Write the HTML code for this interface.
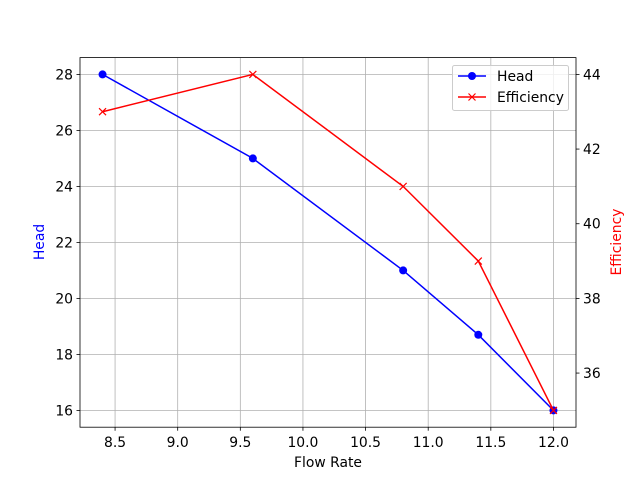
<!DOCTYPE html>
<html><head><meta charset="utf-8"><style>
body{margin:0;background:#fff;}
svg{display:block;font-family:"DejaVu Sans","Liberation Sans",sans-serif;}
</style></head><body>
<svg id="c" width="640" height="480"></svg>
<script>
const flowRates=[8.4,9.6,10.8,11.4,12.0];
const headValues=[28,25,21,18.7,16];
const efficiencyValues=[43,44,41,39,35];
const xTicks=[8.5,9.0,9.5,10.0,10.5,11.0,11.5,12.0];
const headTicks=[16,18,20,22,24,26,28];
const effTicks=[36,38,40,42,44];

const L=80,R=576,T=57.6,B=427.2,FS=13.9;
function ext(a){const mn=Math.min(...a),mx=Math.max(...a),m=(mx-mn)*0.05;return [mn-m,mx+m];}
const [x0,x1]=ext(flowRates),[h0,h1]=ext(headValues),[e0,e1]=ext(efficiencyValues);
const X=v=>L+(v-x0)/(x1-x0)*(R-L);
const YH=v=>B-(v-h0)/(h1-h0)*(B-T);
const YE=v=>B-(v-e0)/(e1-e0)*(B-T);
const svg=document.getElementById('c');
const NS='http://www.w3.org/2000/svg';
function mk(tag,attrs,parent){const e=document.createElementNS(NS,tag);for(const k in attrs)e.setAttribute(k,attrs[k]);(parent||svg).appendChild(e);return e;}
function txt(s,attrs){const t=mk('text',attrs);t.textContent=s;return t;}

xTicks.forEach(v=>{const g=mk('line',{x1:X(v),x2:X(v),y1:T,y2:B,stroke:'#b0b0b0','stroke-width':0.8});

});
headTicks.forEach(v=>{const g=mk('line',{x1:L,x2:R,y1:YH(v),y2:YH(v),stroke:'#b0b0b0','stroke-width':0.8});

});

xTicks.forEach(v=>{mk('line',{x1:X(v),x2:X(v),y1:B,y2:B+3.5,stroke:'#000','stroke-width':0.8});
const t=txt(v.toFixed(1),{x:X(v),y:B+20,'font-size':FS,'text-anchor':'middle'});

});
headTicks.forEach(v=>{mk('line',{x1:L,x2:L-3.5,y1:YH(v),y2:YH(v),stroke:'#000','stroke-width':0.8});
const t=txt(String(v),{x:L-7,y:YH(v)+5,'font-size':FS,'text-anchor':'end'});

});
effTicks.forEach(v=>{mk('line',{x1:R,x2:R+3.5,y1:YE(v),y2:YE(v),stroke:'#000','stroke-width':0.8});
const t=txt(String(v),{x:R+7,y:YE(v)+5,'font-size':FS,'text-anchor':'start'});

});

const hp=mk('polyline',{points:flowRates.map((x,i)=>X(x)+','+YH(headValues[i])).join(' '),fill:'none',stroke:'#0000ff','stroke-width':1.5});


flowRates.forEach((x,i)=>{const c=mk('circle',{cx:X(x),cy:YH(headValues[i]),r:4,fill:'#0000ff'});

});
const ep=mk('polyline',{points:flowRates.map((x,i)=>X(x)+','+YE(efficiencyValues[i])).join(' '),fill:'none',stroke:'#ff0000','stroke-width':1.5});


flowRates.forEach((x,i)=>{const cx=X(x),cy=YE(efficiencyValues[i]),d=3.5;
const m=mk('path',{d:`M${cx-d},${cy-d}L${cx+d},${cy+d}M${cx-d},${cy+d}L${cx+d},${cy-d}`,stroke:'#ff0000','stroke-width':1.2});

});

mk('rect',{x:L,y:T,width:R-L,height:B-T,fill:'none',stroke:'#000','stroke-width':0.8});
</script>
<svg style="position:absolute;left:0;top:0" width="640" height="480">
<text x="328" y="467" font-size="13.9" text-anchor="middle" font-family="DejaVu Sans, Liberation Sans, sans-serif">Flow Rate</text>
<text x="44" y="242" font-size="13.9" text-anchor="middle" fill="#0000ff" transform="rotate(-90 44 242)" font-family="DejaVu Sans, Liberation Sans, sans-serif">Head</text>
<text x="621" y="242" font-size="13.9" text-anchor="middle" fill="#ff0000" transform="rotate(-90 621 242)" font-family="DejaVu Sans, Liberation Sans, sans-serif">Efficiency</text>
<g>
<rect x="452.5" y="65.5" width="116" height="45" rx="2" fill="#fff" fill-opacity="0.8" stroke="#cccccc"/>
<g>
<line x1="458" x2="486" y1="76" y2="76" stroke="#0000ff" stroke-width="1.5"/>
<circle cx="472" cy="76" r="4" fill="#0000ff"/>
<text x="497" y="81" font-size="13.9" font-family="DejaVu Sans, Liberation Sans, sans-serif">Head</text>
</g>
<g>
<line x1="458" x2="486" y1="97" y2="97" stroke="#ff0000" stroke-width="1.5"/>
<path d="M468.5,93.5L475.5,100.5M468.5,100.5L475.5,93.5" stroke="#ff0000" stroke-width="1.2"/>
<text x="497" y="102" font-size="13.9" font-family="DejaVu Sans, Liberation Sans, sans-serif">Efficiency</text>
</g>
</g>
</svg>
</body></html>
